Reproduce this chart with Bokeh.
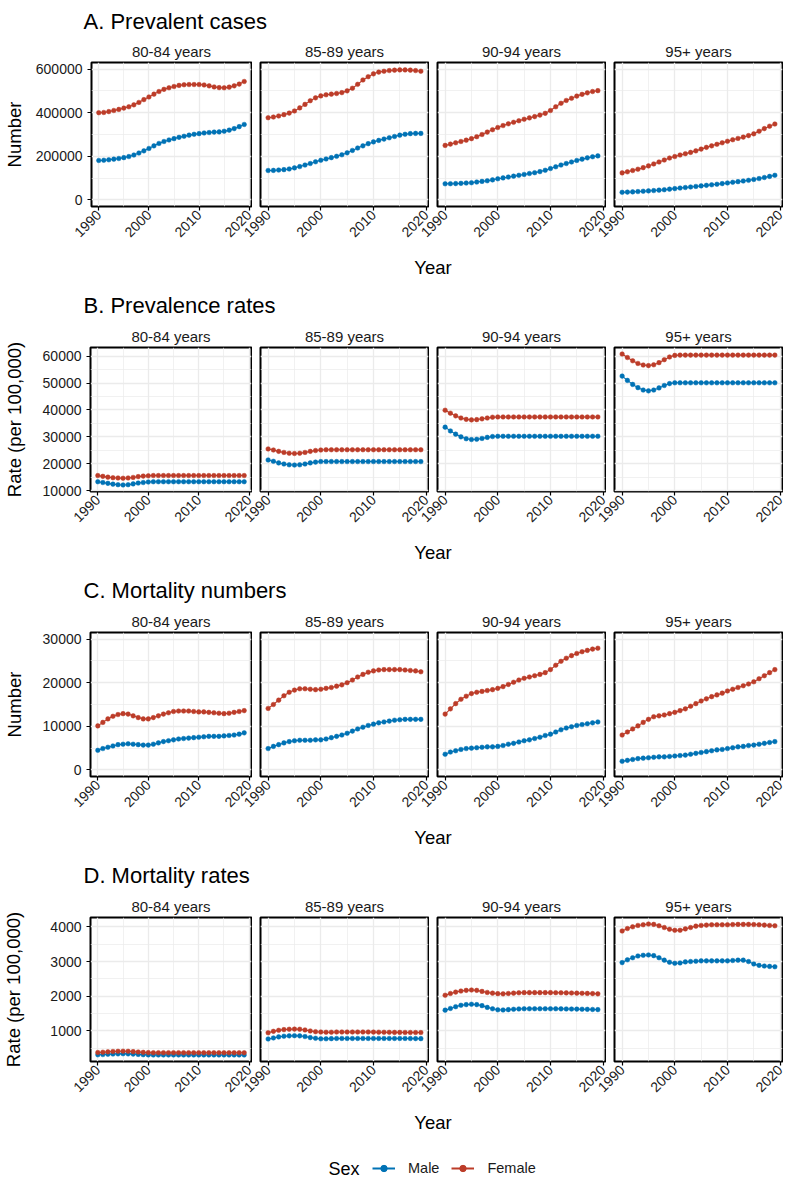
import math
from bokeh.plotting import figure
from bokeh.layouts import column, row
from bokeh.models import (Range1d, FixedTicker, BasicTickFormatter, Label,
                          Legend, LegendItem)
from bokeh.embed import file_html
from bokeh.resources import INLINE

# ---------------- data ----------------
YEARS = list(range(1990, 2020))
AGE_GROUPS = ["80-84 years", "85-89 years", "90-94 years", "95+ years"]
SEXES = ["Male", "Female"]

# A. Prevalent cases (number)
A80M = [181000,182000,184000,187000,190000,194000,199000,206000,215000,225000,236000,248000,259000,268000,275000,281000,287000,292000,297000,301000,304000,307000,309000,311000,312000,315000,320000,327000,336000,346000]
A80F = [400000,401000,405000,410000,415000,421000,427000,436000,447000,460000,472000,485000,497000,507000,514000,520000,525000,528000,529000,529000,529000,527000,523000,518000,515000,514000,517000,523000,531000,543000]
A85M = [135000,135500,137000,139000,142000,147000,153000,160000,167000,175000,182000,188000,194000,200000,207000,216000,227000,238000,248000,258000,266000,273000,279000,285000,291000,297000,301000,304000,305000,305000]
A85F = [377000,380000,385000,391000,398000,408000,422000,438000,455000,468000,477000,482000,485000,488000,492000,500000,512000,530000,550000,565000,578000,586000,590000,593000,595000,596000,596000,595000,593000,590000]
A90M = [74000,74500,75000,76000,77500,79000,82000,85000,88000,92000,97000,101000,105000,109000,113000,117000,121000,125000,130000,136000,144000,152000,160000,167000,174000,181000,187000,193000,198000,202000]
A90F = [250000,256000,262000,268000,274000,281000,290000,300000,311000,322000,332000,341000,349000,356000,363000,370000,376000,382000,389000,397000,410000,427000,443000,456000,466000,476000,484000,491000,497000,501000]
A95M = [35000,36000,37000,38500,40000,41500,43000,45000,47000,49500,52000,54500,57000,59500,62000,64500,67000,69500,72000,75000,78000,81000,84000,87000,90000,94000,98000,103000,108000,113000]
A95F = [124000,129000,135000,141000,148000,156000,165000,174000,183000,192000,199000,206000,212000,218000,225000,233000,241000,248000,255000,262000,269000,276000,282000,288000,295000,303000,315000,327000,338000,348000]

# B. Prevalence rates (per 100,000)
B80M = [13300,13000,12700,12400,12200,12100,12200,12500,12800,13000,13200,13300,13300,13300,13300,13300,13300,13300,13300,13300,13300,13300,13300,13300,13300,13300,13300,13300,13300,13300]
B80F = [15600,15300,15000,14800,14700,14600,14700,14900,15200,15400,15500,15600,15600,15600,15600,15600,15600,15600,15600,15600,15600,15600,15600,15600,15600,15600,15600,15600,15600,15600]
B85M = [21400,20900,20300,19900,19600,19500,19600,19900,20300,20600,20800,20800,20800,20800,20800,20800,20800,20800,20800,20800,20800,20800,20800,20800,20800,20800,20800,20800,20800,20800]
B85F = [25500,25100,24600,24200,23900,23800,23900,24200,24600,24900,25100,25200,25200,25200,25200,25200,25200,25200,25200,25200,25200,25200,25200,25200,25200,25200,25200,25200,25200,25200]
B90M = [33600,32200,31000,30000,29300,29000,29100,29400,29800,30100,30200,30200,30200,30200,30200,30200,30200,30200,30200,30200,30200,30200,30200,30200,30200,30200,30200,30200,30200,30200]
B90F = [39900,38800,37800,37000,36500,36300,36400,36700,37000,37300,37400,37400,37400,37400,37400,37400,37400,37400,37400,37400,37400,37400,37400,37400,37400,37400,37400,37400,37400,37400]
B95M = [52600,51000,49500,48300,47400,47100,47400,48200,49100,49800,50100,50100,50100,50100,50100,50100,50100,50100,50100,50100,50100,50100,50100,50100,50100,50100,50100,50100,50100,50100]
B95F = [60800,59500,58300,57300,56700,56500,56800,57600,58700,59700,60300,60400,60400,60400,60400,60400,60400,60400,60400,60400,60400,60400,60400,60400,60400,60400,60400,60400,60400,60400]

# C. Mortality numbers
C80M = [4500,4900,5200,5500,5800,5900,6000,5900,5800,5700,5700,5900,6200,6500,6700,6900,7100,7200,7300,7400,7500,7600,7700,7700,7700,7800,7900,8000,8200,8500]
C80F = [10100,10900,11700,12300,12700,12900,12800,12400,12000,11700,11700,12000,12400,12800,13100,13400,13500,13500,13500,13400,13300,13300,13200,13100,13000,12900,13000,13200,13400,13600]
C85M = [4900,5400,5800,6200,6500,6700,6800,6800,6800,6900,6900,7100,7400,7700,8000,8400,8900,9400,9800,10200,10500,10800,11000,11200,11400,11500,11600,11600,11600,11600]
C85F = [14100,15000,16000,17000,17800,18300,18600,18600,18500,18400,18500,18700,18900,19200,19500,20000,20600,21300,21900,22400,22700,22900,23000,23000,23000,23000,22900,22800,22700,22500]
C90M = [3600,4100,4400,4700,4900,5000,5100,5200,5300,5300,5400,5600,5900,6100,6400,6700,6900,7200,7500,7900,8200,8700,9200,9600,9900,10200,10400,10600,10800,11000]
C90F = [12800,14000,15200,16200,16900,17500,17800,18000,18200,18400,18700,19100,19600,20100,20600,21000,21300,21600,21900,22300,23000,24000,24900,25600,26200,26700,27100,27400,27700,27900]
C95M = [2000,2200,2400,2600,2700,2800,2900,3000,3000,3100,3200,3300,3400,3600,3800,4000,4200,4400,4600,4700,4900,5100,5300,5400,5600,5700,5900,6100,6300,6500]
C95F = [8000,8700,9400,10100,10900,11600,12200,12400,12600,12900,13200,13600,14000,14600,15200,15800,16300,16800,17200,17600,18100,18500,18900,19300,19700,20200,20900,21600,22300,23000]

# D. Mortality rates (per 100,000)
D80M = [315,322,330,337,342,345,342,335,326,318,312,310,310,310,310,310,310,310,310,310,310,310,310,310,310,310,310,310,310,310]
D80F = [380,390,400,410,415,418,415,405,395,385,378,375,375,375,375,375,375,375,375,375,375,375,375,375,375,375,375,375,375,375]
D85M = [770,800,830,850,860,865,860,840,810,790,775,775,780,785,785,785,785,785,785,785,785,785,785,785,785,785,785,783,781,780]
D85F = [950,990,1020,1040,1050,1055,1050,1030,1000,980,970,965,965,970,970,970,970,970,970,970,968,966,964,962,960,960,958,957,956,955]
D90M = [1600,1650,1700,1740,1760,1770,1760,1730,1680,1640,1610,1605,1615,1625,1635,1640,1640,1640,1640,1640,1640,1640,1638,1635,1632,1630,1627,1624,1620,1616]
D90F = [2030,2080,2120,2150,2170,2180,2170,2140,2110,2090,2075,2070,2080,2090,2100,2105,2105,2105,2105,2105,2105,2103,2100,2097,2094,2090,2086,2082,2077,2070]
D95M = [2970,3050,3110,3160,3180,3190,3170,3110,3040,2980,2950,2960,2990,3000,3010,3020,3020,3020,3020,3020,3020,3030,3040,3040,3000,2930,2890,2870,2860,2850]
D95F = [3880,3950,4000,4040,4060,4080,4070,4030,3980,3930,3900,3900,3940,3980,4020,4040,4050,4060,4060,4060,4060,4065,4070,4070,4070,4065,4060,4050,4040,4030]

SECTION_TITLES = ["A. Prevalent cases", "B. Prevalence rates", "C. Mortality numbers", "D. Mortality rates"]
Y_LABELS = ["Number", "Rate (per 100,000)", "Number", "Rate (per 100,000)"]
Y_LIMITS = [(0, 600000), None, (0, 30000), None]
Y_TICKS = [[0, 200000, 400000, 600000],
           [10000, 20000, 30000, 40000, 50000, 60000],
           [0, 10000, 20000, 30000],
           [1000, 2000, 3000, 4000]]
Y_MINOR = [[100000, 300000, 500000],
           [15000, 25000, 35000, 45000, 55000],
           [5000, 15000, 25000],
           [500, 1500, 2500, 3500]]
X_TICKS = [1990, 2000, 2010, 2020]
X_MINOR = [1995, 2005, 2015]

MALE_SERIES = [[A80M, A85M, A90M, A95M], [B80M, B85M, B90M, B95M],
               [C80M, C85M, C90M, C95M], [D80M, D85M, D90M, D95M]]
FEMALE_SERIES = [[A80F, A85F, A90F, A95F], [B80F, B85F, B90F, B95F],
                 [C80F, C85F, C90F, C95F], [D80F, D85F, D90F, D95F]]

# ---------------- style / geometry ----------------
FONT = "Liberation Sans"
COLORS = {"Male": "#0072B5", "Female": "#BC3C29"}
GRID = "#EBEBEB"
TXT = "#1a1a1a"

LEFT_W, FRAME_W, GAP, RIGHT_W, OVER = 83, 168, 8, 1, 12
TOP_B, FRAME_H, BOT_B = 25, 144, 43
PANEL_H = TOP_B + FRAME_H + BOT_B
TOTAL_W = LEFT_W + 4 * (FRAME_W + RIGHT_W) + 3 * GAP   # 783
SEP0_H, SEP_H, LAST_H = 37, 73, 76
XC = (LEFT_W + TOTAL_W - RIGHT_W) / 2

x_lo, x_hi = min(YEARS), max(YEARS)
x_pad = 0.05 * (x_hi - x_lo)


def text_fig(height):
    f = figure(width=TOTAL_W, height=height, x_range=Range1d(0, TOTAL_W),
               y_range=Range1d(0, height), x_axis_location=None,
               y_axis_location=None, min_border=0, toolbar_location=None,
               output_backend="svg", outline_line_color=None,
               border_fill_color=None, background_fill_color=None)
    f.grid.visible = False
    return f


def add_text(f, x, y, txt, size, align="left", baseline="alphabetic"):
    f.add_layout(Label(x=x, y=y, text=txt, text_font=FONT,
                       text_font_size=size, text_color="black",
                       text_align=align, text_baseline=baseline))


def make_panel(si, gi, y_range):
    first = gi == 0
    left = LEFT_W if first else GAP + OVER
    p = figure(width=left + FRAME_W + RIGHT_W, height=PANEL_H,
               x_range=Range1d(x_lo - x_pad, x_hi + x_pad), y_range=y_range,
               output_backend="svg", toolbar_location=None,
               min_border_left=left, min_border_right=RIGHT_W,
               min_border_top=TOP_B, min_border_bottom=BOT_B,
               title=AGE_GROUPS[gi], y_axis_location="left" if first else None,
               border_fill_color=None)
    if not first:
        p.margin = (0, 0, 0, -OVER)
    p.title.align = "center"
    p.title.text_font = FONT
    p.title.text_font_size = "15px"
    p.title.text_font_style = "normal"
    p.title.text_color = TXT
    p.title.standoff = 5
    p.outline_line_color = "black"
    p.outline_line_width = 2

    xt = FixedTicker(ticks=X_TICKS, minor_ticks=X_MINOR)
    yt = FixedTicker(ticks=Y_TICKS[si], minor_ticks=Y_MINOR[si])
    p.xaxis.ticker = xt
    p.xgrid.ticker = xt
    p.ygrid.ticker = yt
    for g in (p.xgrid, p.ygrid):
        g.grid_line_color = GRID
        g.grid_line_width = 1.3
        g.minor_grid_line_color = GRID
        g.minor_grid_line_width = 0.7
    axes = [p.xaxis[0]]
    if first:
        p.yaxis.ticker = yt
        p.yaxis.formatter = BasicTickFormatter(use_scientific=False)
        p.yaxis.axis_label = Y_LABELS[si]
        w = len(str(max(Y_TICKS[si]))) * 0.556 * 14
        p.yaxis.axis_label_standoff = int(max(0, 84.5 - (4 + 5 + w + 20.7)))
        p.yaxis.axis_label_text_font = FONT
        p.yaxis.axis_label_text_font_size = "18.5px"
        p.yaxis.axis_label_text_font_style = "normal"
        p.yaxis.axis_label_text_color = "black"
        axes.append(p.yaxis[0])
    for ax in axes:
        ax.axis_line_color = None
        ax.major_tick_line_color = "black"
        ax.major_tick_line_width = 1.2
        ax.major_tick_out = 4
        ax.major_tick_in = 0
        ax.minor_tick_line_color = None
        ax.major_label_standoff = 5
        ax.major_label_text_font = FONT
        ax.major_label_text_font_size = "14px"
        ax.major_label_text_color = TXT
    p.xaxis.major_label_orientation = math.pi / 4
    p.xaxis.major_label_standoff = 2

    for sex, series in (("Male", MALE_SERIES), ("Female", FEMALE_SERIES)):
        vals = series[si][gi]
        p.line(YEARS, vals, line_color=COLORS[sex], line_width=1.1)
        p.scatter(YEARS, vals, size=4.6, fill_color=COLORS[sex],
                  line_color=COLORS[sex], line_width=0.5)
    return p


blocks = []
head = text_fig(SEP0_H)
add_text(head, LEFT_W, 16.5, SECTION_TITLES[0], "22px")
blocks.append(head)

for si in range(4):
    allv = [v for s in (MALE_SERIES[si] + FEMALE_SERIES[si]) for v in s]
    lo, hi = Y_LIMITS[si] if Y_LIMITS[si] else (min(allv), max(allv))
    pad = 0.05 * (hi - lo)
    yr = Range1d(lo - pad, hi + pad)
    blocks.append(row(*[make_panel(si, gi, yr) for gi in range(4)]))

    if si < 3:
        sep = text_fig(SEP_H)
        add_text(sep, XC, SEP_H - 17.5, "Year", "18.5px", align="center")
        add_text(sep, LEFT_W, 17.5, SECTION_TITLES[si + 1], "22px")
        blocks.append(sep)
    else:
        sep = text_fig(LAST_H)
        add_text(sep, XC, LAST_H - 17.5, "Year", "18.5px", align="center")
        items = []
        for sex in SEXES:
            rl = sep.line([float("nan")], [float("nan")], line_color=COLORS[sex], line_width=2)
            rs = sep.scatter([float("nan")], [float("nan")], size=5,
                             fill_color=COLORS[sex], line_color=COLORS[sex])
            items.append(LegendItem(label=sex, renderers=[rl, rs]))
        legend = Legend(items=items, orientation="horizontal", location=(372, 4),
                        glyph_width=23, glyph_height=16, label_standoff=13,
                        spacing=12, padding=0, margin=0, label_text_font=FONT,
                        label_text_font_size="14.5px", label_height=16,
                        label_text_color=TXT, border_line_alpha=0,
                        background_fill_alpha=0)
        sep.add_layout(legend)
        add_text(sep, 328, 12, "Sex", "18px", baseline="middle")
        blocks.append(sep)

layout = column(*blocks, margin=(0, 0, -20, 0))

open("out.html", "w").write(file_html(layout, INLINE))
